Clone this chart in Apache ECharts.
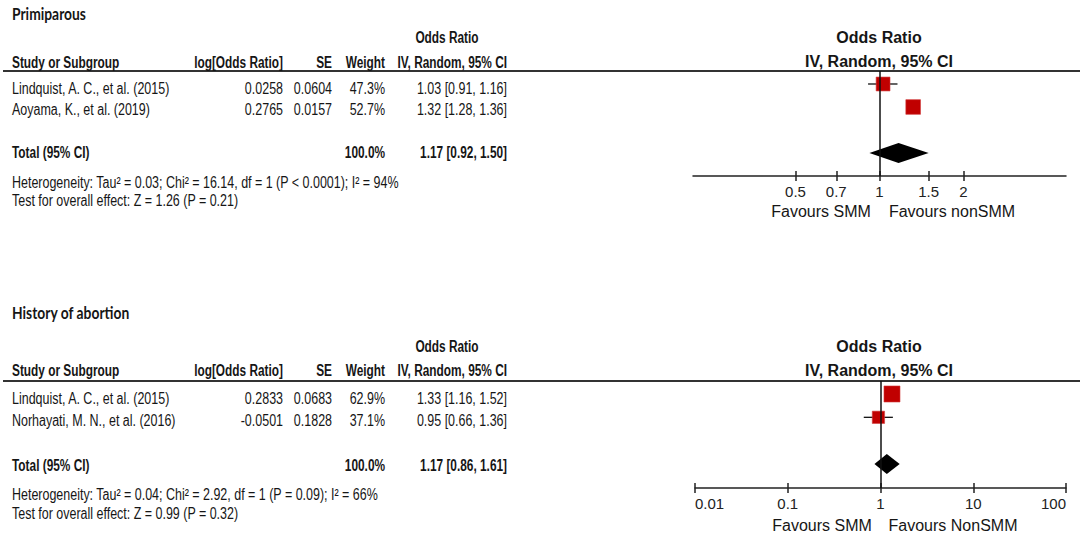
<!DOCTYPE html>
<html><head><meta charset="utf-8">
<script src="https://cdn.jsdelivr.net/npm/echarts@6/dist/echarts.min.js"></script>
<style>html,body{margin:0;padding:0;background:#fff}#c{width:1084px;height:537px}</style>
</head><body><div id="c"></div>
<script>
// ---------- DATA ----------
const panelTitles = ['Primiparous', 'History of abortion'];

// Primiparous
const priStudies = ['Lindquist, A. C., et al. (2015)', 'Aoyama, K., et al. (2019)'];
const priLogOR = [0.0258, 0.2765];
const priSE = [0.0604, 0.0157];
const priWeight = [47.3, 52.7];
const priOR = [1.03, 1.32];
const priLow = [0.91, 1.28];
const priHigh = [1.16, 1.36];
const priTotal = [1.17, 0.92, 1.50];           // OR, low, high
const priHet = ['0.03', '16.14', '1', '< 0.0001', '94']; // Tau2, Chi2, df, P, I2
const priTest = ['1.26', '0.21'];              // Z, P
const priTicks = [0.5, 0.7, 1, 1.5, 2];
const priFavours = ['Favours SMM', 'Favours nonSMM'];

// History of abortion
const aboStudies = ['Lindquist, A. C., et al. (2015)', 'Norhayati, M. N., et al. (2016)'];
const aboLogOR = [0.2833, -0.0501];
const aboSE = [0.0683, 0.1828];
const aboWeight = [62.9, 37.1];
const aboOR = [1.33, 0.95];
const aboLow = [1.16, 0.66];
const aboHigh = [1.52, 1.36];
const aboTotal = [1.17, 0.86, 1.61];
const aboHet = ['0.04', '2.92', '1', '= 0.09', '66'];
const aboTest = ['0.99', '0.32'];
const aboTicks = [0.01, 0.1, 1, 10, 100];
const aboFavours = ['Favours SMM', 'Favours NonSMM'];

const headers = ['Study or Subgroup', 'log[Odds Ratio]', 'SE', 'Weight', 'Odds Ratio', 'IV, Random, 95% CI'];
const totalLabel = 'Total (95% CI)';

// ---------- LAYOUT / STYLE ----------
const COL = { name: 12, log: 283, se: 332, w: 385, ci: 507, orHead: 447 };
const REG_SX = 0.80, BOLD_SX = 0.76, TITLE_SX = 0.84, LFS = 15.6;
const INK = '#161616';
const panels = [
  { title: 14, orHead: 37, head: 62, line: 71, rows: [88, 109], total: 152, het: 182, test: 200,
    rHead1: 37, rHead2: 61, fav: 211, favX: [821, 952] },
  { title: 313, orHead: 346, head: 370, line: 381, rows: [398, 420], total: 465, het: 494, test: 513,
    rHead1: 346, rHead2: 370, fav: 525, favX: [822, 953] }
];

function T(x, y, text, o) {
  o = o || {};
  return {
    type: 'text', x: x, y: y, scaleX: o.sx || 1, silent: true, z: 10,
    style: {
      text: text, x: 0, y: 0, align: o.align || 'left', verticalAlign: 'middle',
      fontFamily: o.ff || 'Liberation Sans', fontSize: o.fs || LFS,
      fontWeight: o.bold ? 'bold' : 'normal', fill: o.color || INK
    }
  };
}
const fmtCI = (a, b, c) => a.toFixed(2) + ' [' + b.toFixed(2) + ', ' + c.toFixed(2) + ']';

const sets = [
  { studies: priStudies, logOR: priLogOR, se: priSE, w: priWeight, or: priOR, lo: priLow, hi: priHigh,
    total: priTotal, het: priHet, test: priTest, favours: priFavours },
  { studies: aboStudies, logOR: aboLogOR, se: aboSE, w: aboWeight, or: aboOR, lo: aboLow, hi: aboHigh,
    total: aboTotal, het: aboHet, test: aboTest, favours: aboFavours }
];

const graphics = [];
sets.forEach(function (d, p) {
  const P = panels[p];
  graphics.push(T(COL.name, P.title, panelTitles[p], { bold: true, sx: TITLE_SX, ff: 'Lato', fs: 16.5 }));
  graphics.push(T(COL.orHead, P.orHead, headers[4], { bold: true, sx: BOLD_SX, align: 'center' }));
  graphics.push(T(COL.name, P.head, headers[0], { bold: true, sx: BOLD_SX }));
  graphics.push(T(COL.log, P.head, headers[1], { bold: true, sx: BOLD_SX, align: 'right' }));
  graphics.push(T(COL.se, P.head, headers[2], { bold: true, sx: BOLD_SX, align: 'right' }));
  graphics.push(T(COL.w, P.head, headers[3], { bold: true, sx: BOLD_SX, align: 'right' }));
  graphics.push(T(COL.ci, P.head, headers[5], { bold: true, sx: BOLD_SX, align: 'right' }));
  d.studies.forEach(function (s, i) {
    const y = P.rows[i];
    graphics.push(T(COL.name, y, s, { sx: REG_SX }));
    graphics.push(T(COL.log, y, d.logOR[i].toFixed(4), { sx: REG_SX, align: 'right' }));
    graphics.push(T(COL.se, y, d.se[i].toFixed(4), { sx: REG_SX, align: 'right' }));
    graphics.push(T(COL.w, y, d.w[i].toFixed(1) + '%', { sx: REG_SX, align: 'right' }));
    graphics.push(T(COL.ci, y, fmtCI(d.or[i], d.lo[i], d.hi[i]), { sx: REG_SX, align: 'right' }));
  });
  const wSum = d.w.reduce((a, b) => a + b, 0);
  graphics.push(T(COL.name, P.total, totalLabel, { bold: true, sx: BOLD_SX }));
  graphics.push(T(COL.w, P.total, wSum.toFixed(1) + '%', { bold: true, sx: BOLD_SX, align: 'right' }));
  graphics.push(T(COL.ci, P.total, fmtCI(d.total[0], d.total[1], d.total[2]), { bold: true, sx: BOLD_SX, align: 'right' }));
  const h = d.het;
  graphics.push(T(COL.name, P.het, 'Heterogeneity: Tau\u00b2 = ' + h[0] + '; Chi\u00b2 = ' + h[1] + ', df = ' + h[2] +
    ' (P ' + h[3] + '); I\u00b2 = ' + h[4] + '%', { sx: REG_SX }));
  graphics.push(T(COL.name, P.test, 'Test for overall effect: Z = ' + d.test[0] + ' (P = ' + d.test[1] + ')', { sx: REG_SX }));
  // right header
  graphics.push(T(879, P.rHead1, headers[4], { bold: true, fs: 16, align: 'center' }));
  graphics.push(T(879, P.rHead2, headers[5], { bold: true, fs: 16, align: 'center' }));
  graphics.push(T(P.favX[0], P.fav, d.favours[0], { fs: 16, align: 'center' }));
  graphics.push(T(P.favX[1], P.fav, d.favours[1], { fs: 16, align: 'center' }));
});

// ---------- AXES ----------
function mkX(gridIndex, min, max, ticks, inside, edgeAlign) {
  return {
    type: 'log', logBase: 10, gridIndex: gridIndex, min: min, max: max, position: 'bottom',
    axisLine: { show: !inside, onZero: false, lineStyle: { color: '#222', width: 1.5 } },
    axisTick: { show: true, inside: inside, customValues: ticks, length: 5, lineStyle: { color: '#222', width: 1.5 } },
    axisLabel: inside ? { show: false } : {
      show: true, customValues: ticks, margin: 8, fontFamily: 'Liberation Sans', fontSize: 15, color: '#222',
      showMinLabel: true, showMaxLabel: true,
      alignMinLabel: edgeAlign ? 'left' : 'center', alignMaxLabel: edgeAlign ? 'right' : 'center',
      formatter: function (v) { return String(+v.toPrecision(6)); }
    },
    splitLine: { show: false }, minorTick: { show: false }, minorSplitLine: { show: false }
  };
}
const priMin = Math.pow(10, -0.668), priMax = Math.pow(10, 0.668);

function studyItem(params, api) {
  const row = api.value(1);
  const c = api.coord([api.value(0), row]);
  const l = api.coord([api.value(2), row]);
  const h = api.coord([api.value(3), row]);
  const s = 2.02 * Math.sqrt(api.value(4));
  return { type: 'group', children: [
    { type: 'line', shape: { x1: l[0], y1: c[1], x2: h[0], y2: c[1] }, style: { stroke: '#111', lineWidth: 1.3 } },
    { type: 'rect', shape: { x: c[0] - s / 2, y: c[1] - s / 2, width: s, height: s },
      style: { fill: '#c00000', stroke: '#d23a3a', lineWidth: 0.6 } }
  ] };
}
function diamondItem(params, api) {
  const row = api.value(1);
  const c = api.coord([api.value(0), row]);
  const l = api.coord([api.value(2), row]);
  const h = api.coord([api.value(3), row]);
  const hh = 10;
  return { type: 'polygon', shape: { points: [[l[0], c[1]], [c[0], c[1] - hh], [h[0], c[1]], [c[0], c[1] + hh]] },
    style: { fill: '#000' } };
}
function seriesFor(d, idx) {
  const xi = idx * 2;
  return [
    { type: 'custom', xAxisIndex: xi, yAxisIndex: idx, z: 2, renderItem: diamondItem, encode: { x: 0, y: 1 },
      data: [[d.total[0], d.studies.length + 1, d.total[1], d.total[2]]],
      markLine: { silent: true, symbol: 'none', label: { show: false }, animation: false,
        lineStyle: { color: '#111', width: 1.5, type: 'solid' }, data: [{ xAxis: 1 }] } },
    { type: 'custom', xAxisIndex: xi, yAxisIndex: idx, z: 3, renderItem: studyItem, encode: { x: 0, y: 1 },
      data: d.or.map((v, i) => [v, i, d.lo[i], d.hi[i], d.w[i]]) }
  ];
}

// header rules drawn as thin filled helper grids spanning the full width
function ruleGrid(y) {
  return { show: true, left: 3, width: 1077, top: y - 1, height: 2, backgroundColor: '#333',
    borderWidth: 0, borderColor: 'transparent', containLabel: false };
}

const chart = echarts.init(document.getElementById('c'), null, { renderer: 'svg' });
chart.setOption({
  animation: false,
  backgroundColor: '#fff',
  grid: [
    { left: 693, top: 71, width: 373, height: 105 },
    { left: 695, top: 381, width: 371, height: 107 },
    ruleGrid(panels[0].line),
    ruleGrid(panels[1].line)
  ],
  xAxis: [
    mkX(0, priMin, priMax, priTicks, false, false),
    mkX(0, priMin, priMax, priTicks, true, false),
    mkX(1, 0.01, 100, aboTicks, false, true),
    mkX(1, 0.01, 100, aboTicks, true, true),
    { gridIndex: 2, type: 'value', show: false, min: 0, max: 1 },
    { gridIndex: 3, type: 'value', show: false, min: 0, max: 1 }
  ],
  yAxis: [
    { gridIndex: 0, type: 'value', inverse: true, min: -0.565, max: 4, show: false },
    { gridIndex: 1, type: 'value', inverse: true, min: -0.557, max: 4.03, show: false },
    { gridIndex: 2, type: 'value', show: false, min: 0, max: 1 },
    { gridIndex: 3, type: 'value', show: false, min: 0, max: 1 }
  ],
  series: seriesFor(sets[0], 0).concat(seriesFor(sets[1], 1)),
  graphic: graphics
});
</script></body></html>
